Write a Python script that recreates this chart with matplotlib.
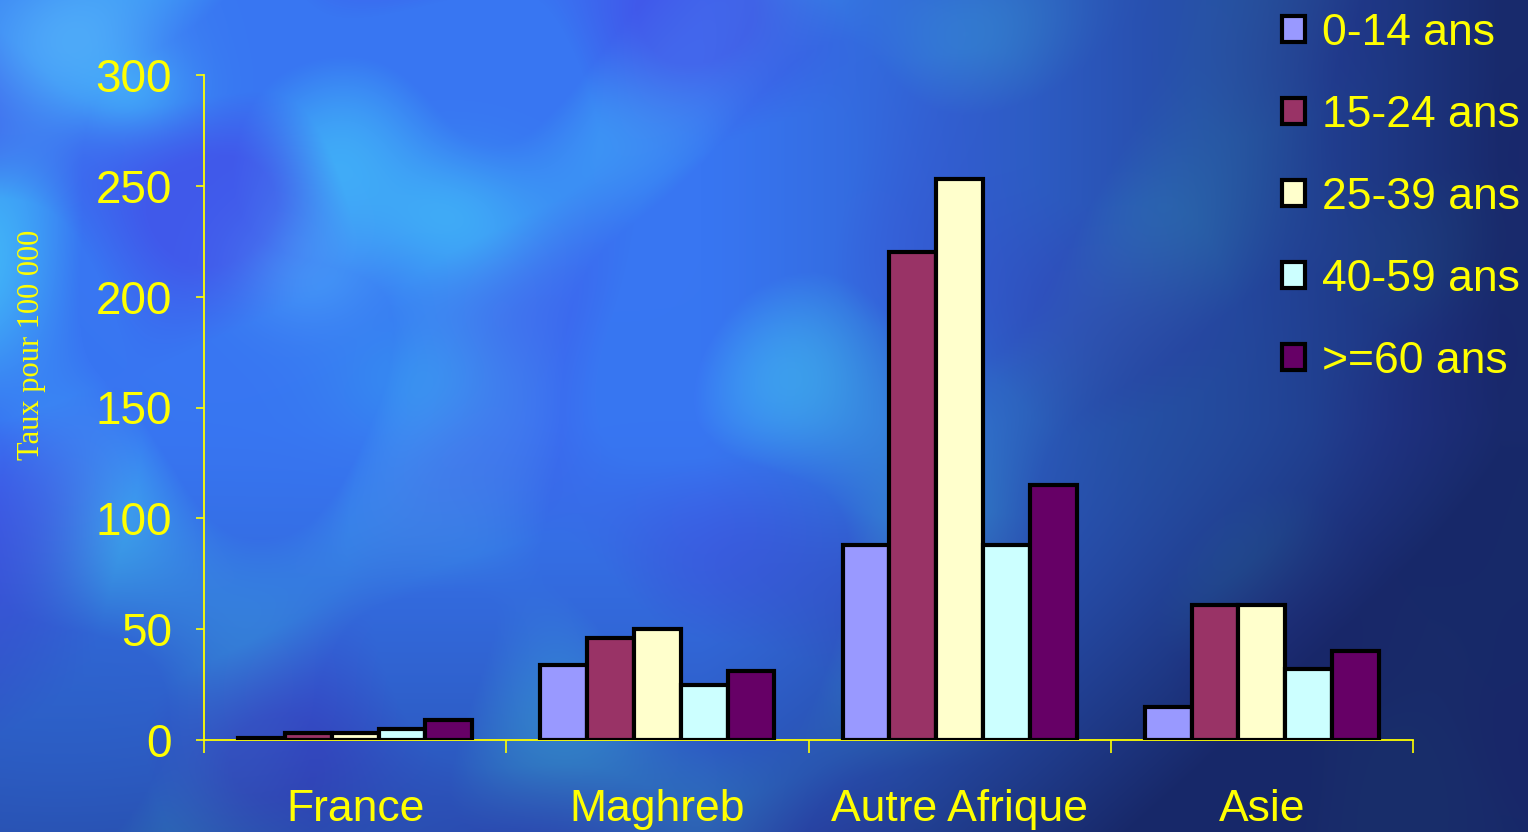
import numpy as np
import matplotlib
matplotlib.use("Agg")
import matplotlib.pyplot as plt
from matplotlib.patches import Patch
from matplotlib.colors import to_rgb

# Data: rate per 100 000 by origin and age group
categories = ["France", "Maghreb", "Autre Afrique", "Asie"]
age_groups = ["0-14 ans", "15-24 ans", "25-39 ans", "40-59 ans", ">=60 ans"]
rates_0_14 = [1, 34, 88, 15]
rates_15_24 = [3, 46, 220, 61]
rates_25_39 = [3, 50, 253, 61]
rates_40_59 = [5, 25, 88, 32]
rates_60_plus = [9, 31, 115, 40]
series = [rates_0_14, rates_15_24, rates_25_39, rates_40_59, rates_60_plus]
colors = ["#9999FF", "#993366", "#FFFFCC", "#CCFFFF", "#660066"]
y_ticks = [0, 50, 100, 150, 200, 250, 300]

W, H, DPI = 1528, 832, 100
fig = plt.figure(figsize=(W / DPI, H / DPI), dpi=DPI)

# Cloudy blue backdrop: smooth wave texture over a left-to-right gradient
yy, xx = np.mgrid[0:H, 0:W].astype(float)

def waves(terms):
    acc = np.zeros_like(xx)
    for kx, ky, ph in terms:
        acc += np.sin(kx * xx + ky * yy + ph)
    return acc / len(terms)

cloud = waves([(0.011, 0.006, 0.3), (-0.007, 0.013, 1.9), (0.017, -0.009, 4.1),
               (0.005, 0.019, 2.7), (0.021, 0.014, 5.3), (-0.015, 0.004, 0.8)])
veil = waves([(0.009, -0.012, 2.2), (0.014, 0.008, 3.6), (-0.006, 0.016, 5.0),
              (0.019, 0.011, 1.1), (0.004, -0.021, 4.4)])

base = np.array(to_rgb("#3876f2"))
cyan = np.array(to_rgb("#44c8fa"))
violet = np.array(to_rgb("#4646e6"))
img = np.ones((H, W, 3)) * base
c = np.clip(cloud * 1.6, 0, 1)[..., None] * 0.75
img = img * (1 - c) + cyan * c
v = np.clip(veil * 1.6, 0, 1)[..., None] * 0.6
img = img * (1 - v) + violet * v

# darken towards the right and the bottom
navy = np.array(to_rgb("#15225e"))
tr = np.clip((xx - 700) / 800, 0, 1) ** 1.2
tb = np.clip((yy - 420) / 500, 0, 1) ** 1.3
shade = np.clip(tr * 0.9 + tb * 0.55 + tr * tb * 0.2, 0, 0.92)[..., None]
img = img * (1 - shade) + navy * shade

def blob(cx, cy, sx, sy, color, strength):
    global img
    g = np.exp(-(((xx - cx) / sx) ** 2 + ((yy - cy) / sy) ** 2))[..., None] * strength
    img = img * (1 - g) + np.array(to_rgb(color)) * g

blob(70, 40, 90, 70, "#66d0ff", 0.45)
blob(130, 90, 60, 40, "#48e0ff", 0.35)
blob(450, 215, 80, 60, "#44d0fa", 0.45)
blob(310, 270, 70, 60, "#58c8ff", 0.35)
blob(420, 380, 90, 60, "#30b8f0", 0.3)
blob(1150, 420, 140, 110, "#1e4c88", 0.3)
blob(60, 700, 120, 120, "#2a64c8", 0.3)
img = np.clip(img, 0, 1)

bg = fig.add_axes([0, 0, 1, 1], zorder=-10)
bg.imshow(img, aspect="auto", extent=[0, 1, 0, 1], origin="upper")
bg.axis("off")

ax = fig.add_axes([204 / W, 92 / H, (1413 - 204) / W, (740 - 75) / H])
ax.patch.set_alpha(0)

x = np.arange(len(categories))
bar_w = 0.155
for i, (vals, col) in enumerate(zip(series, colors)):
    ax.bar(x + (i - 2) * bar_w, vals, width=bar_w, color=col,
           edgecolor="black", linewidth=3.0, label=age_groups[i], zorder=3)

yellow = "#FFFF00"
ax.set_xlim(-0.5, len(categories) - 0.5)
ax.set_ylim(0, 300)
ax.set_yticks(y_ticks)
ax.set_yticklabels([str(v) for v in y_ticks])
ax.set_xticks(np.arange(-0.5, len(categories), 1.0))
ax.set_xticklabels([])
ax.set_xticks(x, minor=True)
ax.set_xticklabels(categories, minor=True)

for side in ("top", "right"):
    ax.spines[side].set_visible(False)
for side in ("left", "bottom"):
    ax.spines[side].set_color(yellow)
    ax.spines[side].set_linewidth(1.3)

ax.tick_params(axis="y", which="major", colors=yellow, length=6, width=1.2,
               labelsize=33, pad=17)
ax.tick_params(axis="x", which="major", colors=yellow, length=9, width=1.2)
ax.tick_params(axis="x", which="minor", length=0, labelcolor=yellow,
               labelsize=32, pad=35)
for lab in ax.get_yticklabels() + ax.get_xticklabels(minor=True):
    lab.set_family("Liberation Sans")

fig.text(32 / W, 1 - 345 / H, "Taux pour 100 000", rotation=90, color=yellow,
         family="Liberation Serif", fontsize=22, ha="center", va="center")

handles = [Patch(facecolor=c, edgecolor="black", linewidth=3.0) for c in colors]
leg = fig.legend(handles, age_groups, loc="upper left",
                 bbox_to_anchor=(1282 / W, 1 - 13 / H), frameon=False,
                 prop={"family": "Liberation Sans", "size": 32},
                 handlelength=0.52, handleheight=0.52, handletextpad=0.38,
                 labelspacing=0.92, borderaxespad=0, borderpad=0)
for txt in leg.get_texts():
    txt.set_color(yellow)

fig.savefig("out.png", dpi=DPI)
